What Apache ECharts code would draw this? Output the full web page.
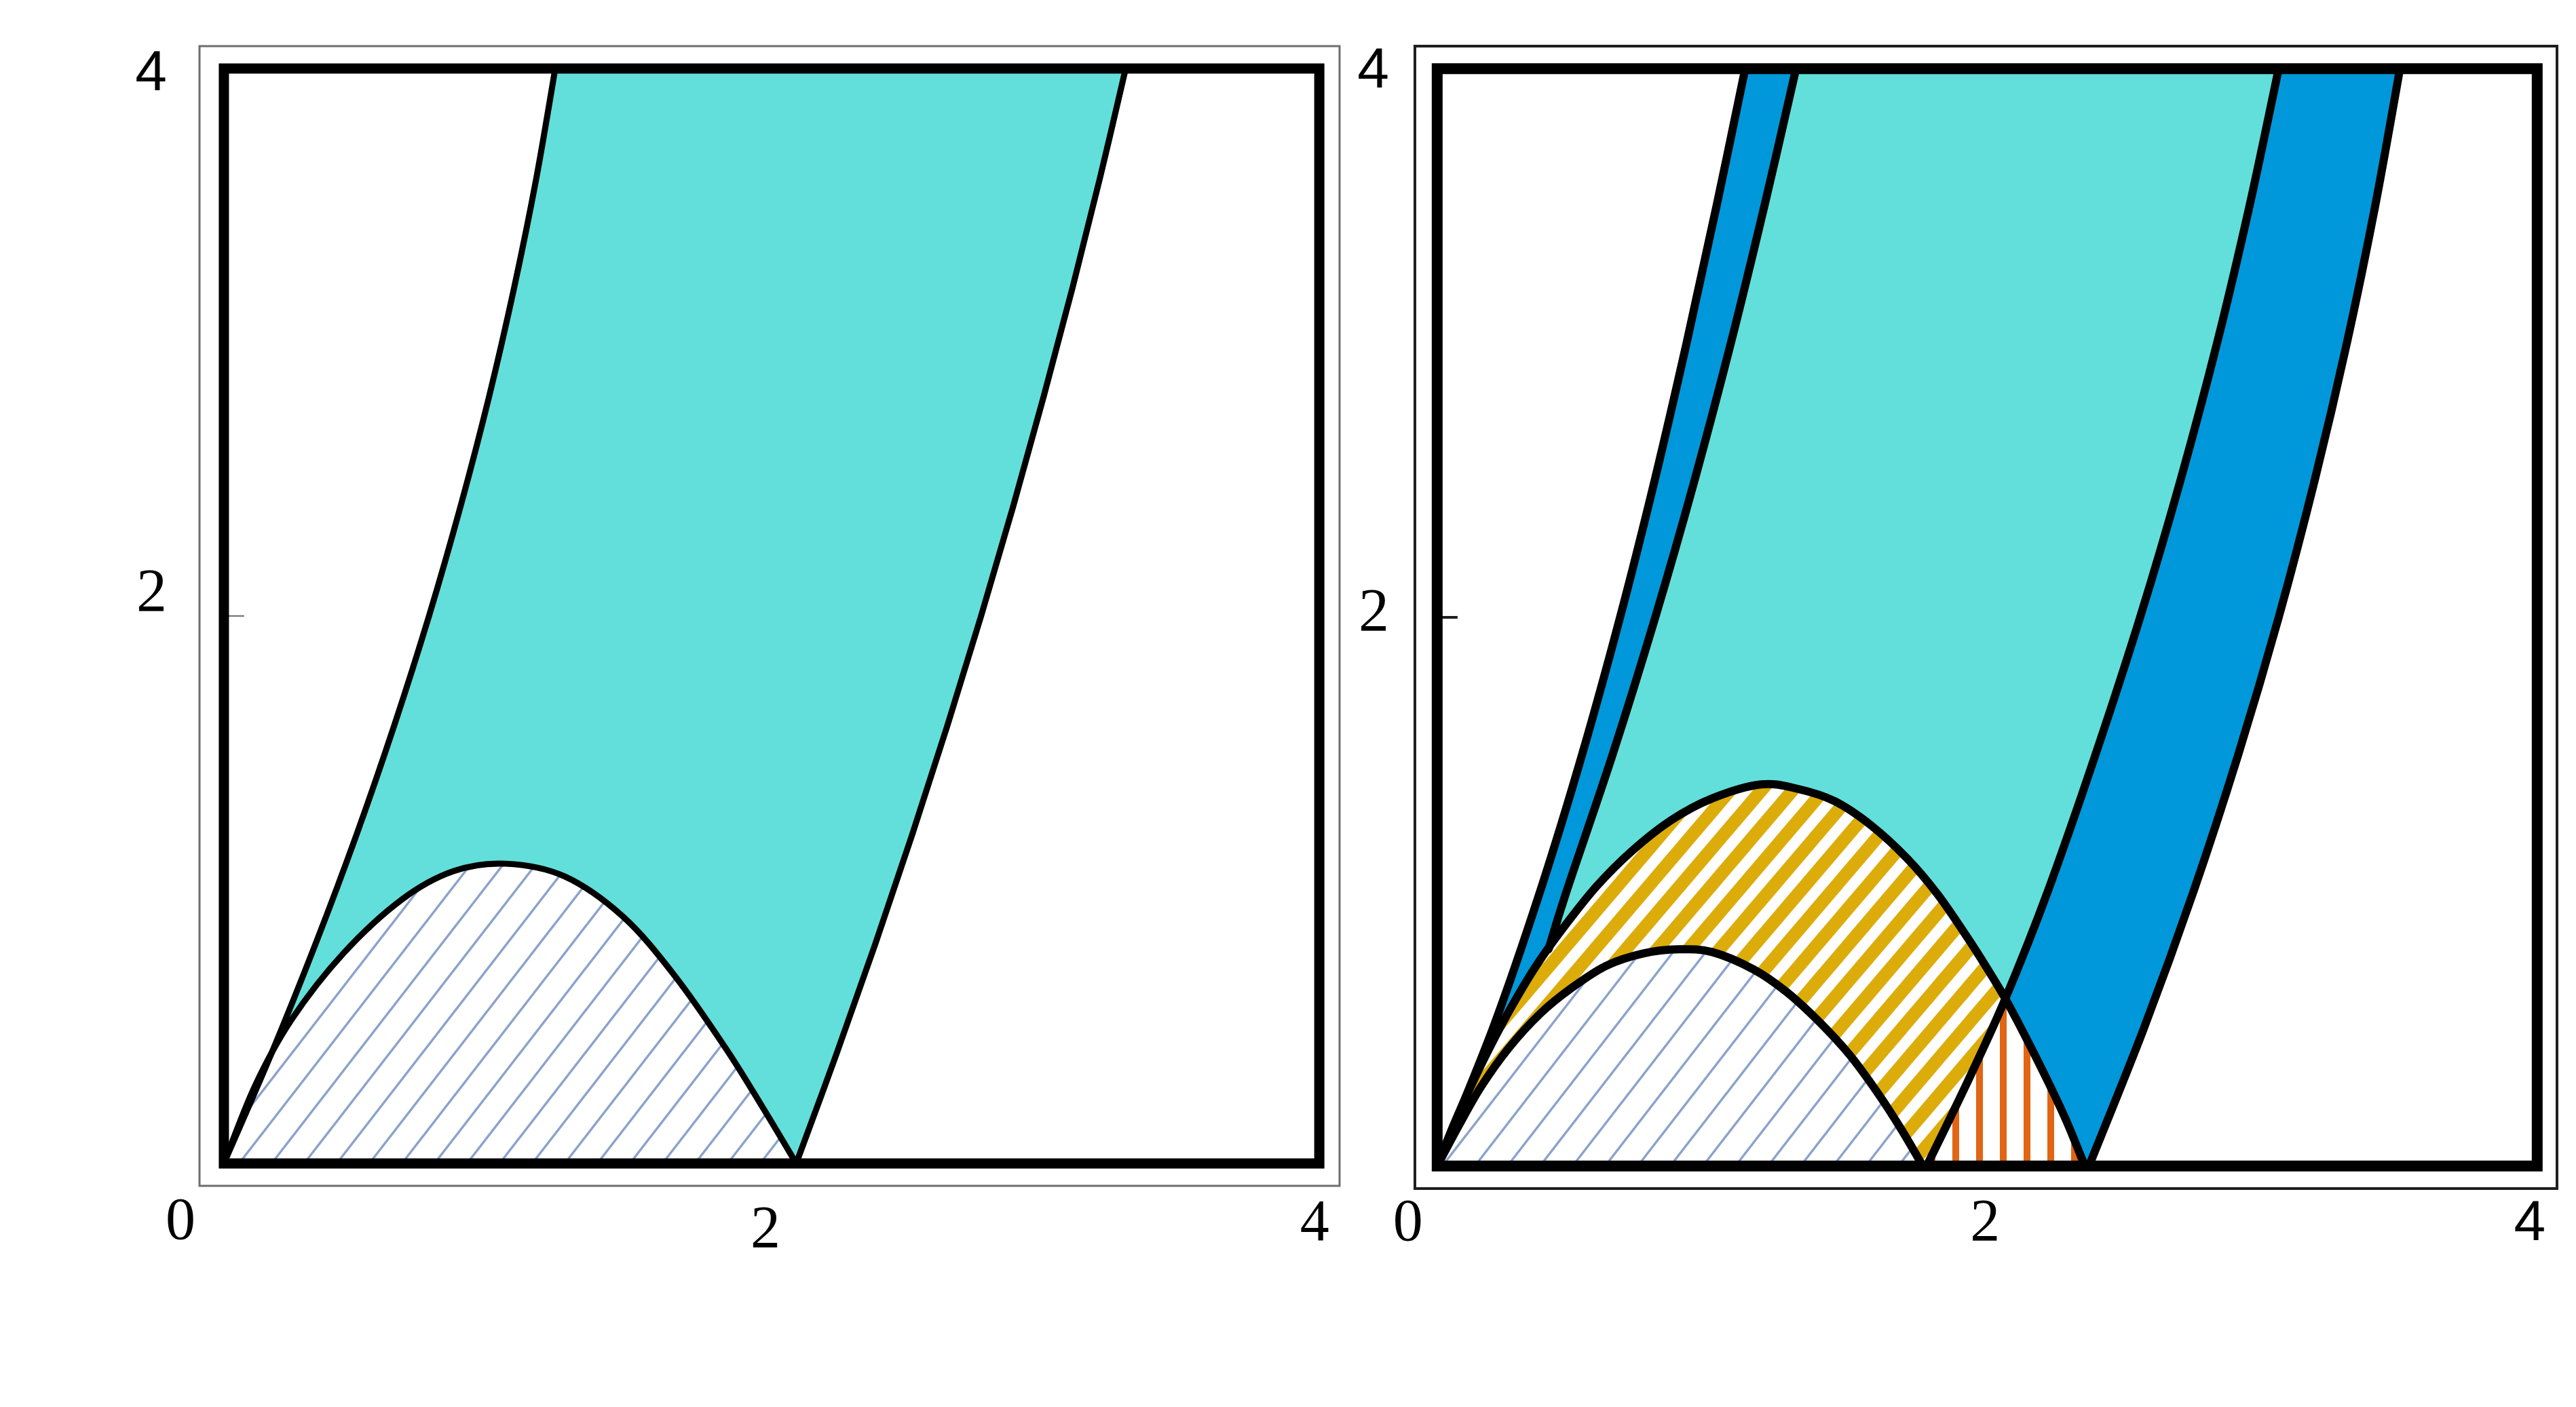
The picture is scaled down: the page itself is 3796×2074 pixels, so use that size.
<!DOCTYPE html>
<html><head><meta charset="utf-8">
<script src="https://cdn.jsdelivr.net/npm/echarts@6/dist/echarts.min.js"></script>
<style>html,body{margin:0;padding:0;background:#fff}#c{width:3796px;height:2074px}</style>
</head><body><div id="c"></div>
<script>
// ---------- data ----------
const xTickValues = [0, 2, 4];
const yTickValues = [0, 2, 4];
const yLabelValues = [2, 4];
const boxCorners = [[0, 0], [4, 0], [4, 4], [0, 4]];

// left panel
const leftBandLeft = [[0,0],[0.173,0.4],[0.334,0.8],[0.484,1.2],[0.622,1.6],[0.749,2.0],[0.864,2.4],[0.968,2.8],[1.06,3.2],[1.141,3.6],[1.21,4.0]];
const leftBandRight = [[2.09,0],[2.237,0.4],[2.378,0.8],[2.513,1.2],[2.642,1.6],[2.765,2.0],[2.882,2.4],[2.993,2.8],[3.099,3.2],[3.199,3.6],[3.293,4.0]];
const leftDome = [[0,0],[0.113,0.282],[0.247,0.525],[0.436,0.767],[0.651,0.965],[0.839,1.068],[1.028,1.095],[1.243,1.049],[1.458,0.901],[1.646,0.686],[1.835,0.417],[1.969,0.202],[2.09,0]];

// right panel
const rightOuterLeft = [[0,0],[0.202,0.5],[0.374,1.0],[0.527,1.5],[0.665,2.0],[0.791,2.5],[0.907,3.0],[1.016,3.5],[1.12,4.0]];
const rightInnerLeft = [[0.405,0.79],[0.47,1.0],[0.638,1.5],[0.793,2.0],[0.936,2.5],[1.068,3.0],[1.19,3.5],[1.305,4.0]];
const rightInnerRight = [[1.78,0],[1.93,0.31],[2.066,0.61],[2.22,1.0],[2.394,1.5],[2.556,2.0],[2.703,2.5],[2.836,3.0],[2.954,3.5],[3.06,4.0]];
const rightOuterRight = [[2.37,0],[2.569,0.5],[2.75,1.0],[2.913,1.5],[3.06,2.0],[3.191,2.5],[3.308,3.0],[3.411,3.5],[3.501,4.0]];
const rightOuterDome = [[0,0],[0.06,0.15],[0.12,0.285],[0.19,0.43],[0.27,0.58],[0.36,0.73],[0.46,0.87],[0.58,1.02],[0.71,1.15],[0.85,1.26],[1.0,1.34],[1.177,1.391],[1.31,1.375],[1.445,1.33],[1.58,1.24],[1.71,1.12],[1.82,0.99],[1.93,0.83],[2.0,0.72],[2.066,0.61],[2.14,0.47],[2.22,0.31],[2.29,0.16],[2.355,0]];
const rightInnerDome = [[0,0],[0.08,0.15],[0.16,0.29],[0.26,0.43],[0.375,0.556],[0.49,0.65],[0.615,0.73],[0.75,0.775],[0.88,0.79],[1.0,0.78],[1.15,0.717],[1.27,0.635],[1.39,0.525],[1.50,0.405],[1.605,0.262],[1.69,0.13],[1.766,0]];
const crossPoint = [2.066, 0.61];

// ---------- styles ----------
const CYAN = '#62dfda', DBLUE = '#0098da', GOLD = '#dcac0a', ORANGE = '#e16513', HATCH = '#8ba3cb';

function diagPattern(w, h, bg, color, lw) {
  const c = document.createElement('canvas'); c.width = w; c.height = h;
  const g = c.getContext('2d');
  g.fillStyle = bg; g.fillRect(0, 0, w, h);
  g.strokeStyle = color; g.lineWidth = lw; g.lineCap = 'butt';
  for (let k = -2; k <= 2; k++) {
    g.beginPath(); g.moveTo(k * w - w, 2 * h); g.lineTo(k * w + 2 * w, -h); g.stroke();
  }
  return { image: c, repeat: 'repeat' };
}
function vertPattern(w, x0, sw, bg, color) {
  const c = document.createElement('canvas'); c.width = w; c.height = 4;
  const g = c.getContext('2d');
  g.fillStyle = bg; g.fillRect(0, 0, w, 4);
  g.fillStyle = color; g.fillRect(x0, 0, sw, 4);
  return { image: c, repeat: 'repeat' };
}
const thinHatch = diagPattern(48, 62, '#ffffff', HATCH, 3.5);
const goldHatch = diagPattern(46, 54, '#ffffff', GOLD, 19);
const orangeHatch = vertPattern(35, 7, 10, '#ffffff', ORANGE);

// smooth (Catmull-Rom) path through pixel points
function crPath(px, first) {
  let d = (first ? 'M' : 'L') + px[0][0] + ',' + px[0][1];
  for (let i = 0; i < px.length - 1; i++) {
    const p0 = px[i - 1] || px[i], p1 = px[i], p2 = px[i + 1], p3 = px[i + 2] || px[i + 1];
    const c1x = p1[0] + (p2[0] - p0[0]) / 6, c1y = p1[1] + (p2[1] - p0[1]) / 6;
    const c2x = p2[0] - (p3[0] - p1[0]) / 6, c2y = p2[1] - (p3[1] - p1[1]) / 6;
    d += ' C' + c1x + ',' + c1y + ' ' + c2x + ',' + c2y + ' ' + p2[0] + ',' + p2[1];
  }
  return d;
}
function buildPath(pieces, api, close) {
  let d = '';
  pieces.forEach((pc, i) => { d += (i ? ' ' : '') + crPath(pc.map(p => api.coord(p)), i === 0); });
  return close ? d + ' Z' : d;
}
function region(pieces, xi, fill, z) {
  return {
    type: 'custom', xAxisIndex: xi, yAxisIndex: xi, coordinateSystem: 'cartesian2d',
    data: [[0, 0]], clip: false, silent: true, z: z,
    renderItem: function (params, api) {
      return { type: 'path', shape: { pathData: buildPath(pieces, api, true) }, style: { fill: fill, stroke: null } };
    }
  };
}
function curve(pts, xi, w) {
  return {
    type: 'custom', xAxisIndex: xi, yAxisIndex: xi, coordinateSystem: 'cartesian2d',
    data: [[0, 0]], clip: false, silent: true, z: 10,
    renderItem: function (params, api) {
      return { type: 'path', shape: { pathData: buildPath([pts], api, false) },
        style: { fill: null, stroke: '#000', lineWidth: w, lineCap: 'round', lineJoin: 'round' } };
    }
  };
}
function boxSeries(xi, w) {
  return {
    type: 'custom', xAxisIndex: xi, yAxisIndex: xi, coordinateSystem: 'cartesian2d',
    data: [[0, 0]], clip: false, silent: true, z: 20,
    renderItem: function (params, api) {
      return { type: 'polygon', shape: { points: boxCorners.map(p => api.coord(p)) },
        style: { fill: null, stroke: '#000', lineWidth: w, lineJoin: 'miter' } };
    }
  };
}

// region outlines (pieces joined by straight edges)
const rev = a => a.slice().reverse();
const leftCyan = [leftBandLeft, rev(leftBandRight)];
const rightBlue = [rightOuterLeft, rev(rightOuterRight)];
const rightCyan = [[[0, 0]], rightInnerLeft, rev(rightInnerRight)];
const rightOrange = [rightInnerRight.filter(p => p[1] <= crossPoint[1]), rightOuterDome.filter(p => p[0] >= crossPoint[0])];

// ---------- axes ----------
const serif = 'Liberation Serif, Times New Roman, serif';
const sans = 'Liberation Sans, Arial, sans-serif';
function xAx(gi, min, max, rich, margin, tickColor, tickW) {
  return { type: 'value', gridIndex: gi, min: min, max: max, position: 'bottom',
    axisLine: { show: false }, splitLine: { show: false },
    axisTick: { show: true, inside: true, length: 30, customValues: xTickValues, lineStyle: { color: tickColor, width: tickW } },
    axisLabel: { show: true, customValues: xTickValues, margin: margin, formatter: v => '{x' + v + '|' + v + '}', rich: rich } };
}
function yAx(gi, min, max, rich, margin, tickColor, tickW) {
  return { type: 'value', gridIndex: gi, min: min, max: max, position: 'left',
    axisLine: { show: false }, splitLine: { show: false },
    axisTick: { show: true, inside: true, length: 30, customValues: yTickValues, lineStyle: { color: tickColor, width: tickW } },
    axisLabel: { show: true, customValues: yLabelValues, margin: margin, formatter: v => '{y' + v + '|' + v + '}', rich: rich } };
}
const richLX = {
  x0: { fontFamily: serif, fontSize: 88, lineHeight: 90, color: '#000', padding: [0, 128, 0, 0] },
  x2: { fontFamily: serif, fontSize: 88, lineHeight: 90, color: '#000', padding: [24, 18, 0, 0] },
  x4: { fontFamily: serif, fontSize: 86, lineHeight: 90, color: '#000', padding: [4, 14, 0, 0] }
};
const richLY = {
  y2: { fontFamily: serif, fontSize: 90, lineHeight: 90, color: '#000', padding: [0, 0, 62, 0] },
  y4: { fontFamily: sans, fontSize: 84, lineHeight: 90, color: '#000', padding: [18, 0, 0, 0] }
};
const richRX = {
  x0: { fontFamily: serif, fontSize: 88, lineHeight: 90, color: '#000', padding: [0, 86, 0, 0] },
  x2: { fontFamily: serif, fontSize: 88, lineHeight: 90, color: '#000', padding: [0, 6, 0, 0] },
  x4: { fontFamily: sans, fontSize: 84, lineHeight: 90, color: '#000', padding: [0, 22, 0, 0] }
};
const richRY = {
  y2: { fontFamily: serif, fontSize: 90, lineHeight: 90, color: '#000', padding: [0, 0, 8, 0] },
  y4: { fontFamily: sans, fontSize: 84, lineHeight: 90, color: '#000', padding: [10, 0, 0, 0] }
};

const option = {
  animation: false,
  backgroundColor: '#ffffff',
  grid: [
    { left: 294, top: 68, width: 1680, height: 1680, show: true, borderColor: '#6e6e6e', borderWidth: 3, backgroundColor: 'transparent', containLabel: false, outerBoundsMode: 'none' },
    { left: 2085, top: 68, width: 1683, height: 1684, show: true, borderColor: '#1e1e1e', borderWidth: 4, backgroundColor: 'transparent', containLabel: false, outerBoundsMode: 'none' }
  ],
  xAxis: [
    xAx(0, -0.089, 4.074, richLX, 10, '#6e6e6e', 2),
    xAx(1, -0.081, 4.072, richRX, 8, '#1e1e1e', 4)
  ],
  yAxis: [
    yAx(0, -0.082, 4.082, richLY, 48, '#6e6e6e', 2),
    yAx(1, -0.082, 4.082, richRY, 38, '#1e1e1e', 4)
  ],
  series: [
    region(leftCyan, 0, CYAN, 1),
    region([leftDome], 0, thinHatch, 2),
    curve(leftBandLeft, 0, 9),
    curve(leftBandRight, 0, 9),
    curve(leftDome, 0, 9),
    boxSeries(0, 15),

    region(rightBlue, 1, DBLUE, 1),
    region(rightCyan, 1, CYAN, 2),
    region([rightOuterDome], 1, goldHatch, 3),
    region(rightOrange, 1, orangeHatch, 4),
    region([rightInnerDome], 1, thinHatch, 5),
    curve(rightOuterLeft, 1, 12),
    curve(rightInnerLeft, 1, 12),
    curve(rightInnerRight, 1, 12),
    curve(rightOuterRight, 1, 12),
    curve(rightOuterDome, 1, 12),
    curve(rightInnerDome, 1, 12),
    boxSeries(1, 16)
  ]
};
const chart = echarts.init(document.getElementById('c'), null, { renderer: 'canvas', width: 3796, height: 2074 });
chart.setOption(option);
</script></body></html>
